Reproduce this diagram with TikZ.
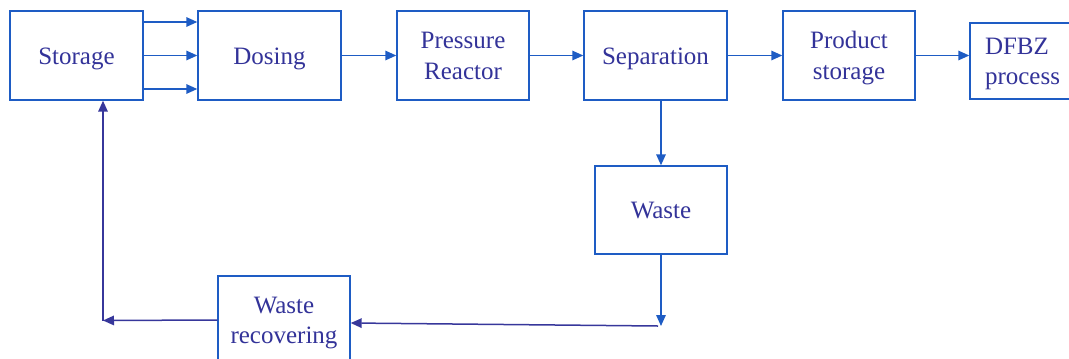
\documentclass[tikz,border=0pt]{standalone}
\usepackage{fontspec}
\setmainfont{Liberation Serif}
\usetikzlibrary{arrows.meta}
\definecolor{boxblue}{RGB}{30,92,196}
\definecolor{txtblue}{RGB}{51,51,153}
\definecolor{loopblue}{RGB}{55,55,155}
\tikzset{
  blk/.style={draw=boxblue, line width=1.4bp, fill=white, text=txtblue, align=center,
    font=\fontsize{25bp}{31bp}\selectfont, inner sep=0pt, minimum height=89bp,
    text height=23bp, text depth=5.5bp},
  two/.style={text height=54bp},
  arr/.style={draw=boxblue, line width=1.5bp, -{Triangle[length=11bp,width=9.5bp]}},
  arrl/.style={draw=loopblue, line width=1.5bp, -{Triangle[length=11bp,width=9.5bp]}}
}
\begin{document}
\begin{tikzpicture}[x=1bp,y=-1bp]
\useasboundingbox (0,0) rectangle (1069,358);
\node[blk, minimum width=133bp] (storage) at (76.5,55.5) {Storage};
\node[blk, minimum width=143bp] (dosing) at (269.5,55.5) {Dosing};
\node[blk, two, minimum width=132bp] (reactor) at (463,55.5) {Pressure\\Reactor};
\node[blk, minimum width=143bp] (separation) at (655.5,55.5) {Separation};
\node[blk, two, minimum width=132bp] (product) at (849,55.5) {Product\\storage};
\node[blk, minimum height=76bp, text height=22bp, text depth=36bp, text width=80bp, inner xsep=15bp, align=left, font=\fontsize{25bp}{30bp}\selectfont] (dfbz) at (1025,61) {DFBZ\\process};
\node[blk, minimum width=132bp, minimum height=88bp] (waste) at (661,210) {Waste};
\node[blk, two, minimum width=132bp, minimum height=88bp, font=\fontsize{25bp}{30bp}\selectfont, text height=53bp] (wrec) at (284,320) {Waste\\recovering};
\coordinate (c1) at (661,326);
\coordinate (c2) at (103,320.5);
\draw[arr] ([yshift=33.5bp]storage.east) -- ([yshift=33.5bp]dosing.west);
\draw[arr] (storage.east) -- (dosing.west);
\draw[arr] ([yshift=-33.5bp]storage.east) -- ([yshift=-33.5bp]dosing.west);
\draw[arr] (dosing.east) -- (reactor.west);
\draw[arr] (reactor.east) -- (separation.west);
\draw[arr] (separation.east) -- (product.west);
\draw[arr] (product.east) -- (product.east -| dfbz.west);
\draw[arr] (waste.north |- separation.south) -- (waste.north);
\draw[arr] (waste.south) -- (c1);
\draw[arrl] ([xshift=-3bp]c1) -- ([yshift=-3bp]wrec.east);
\draw[arrl] (wrec.west) -- (c2);
\draw[arrl] (c2) -- (c2 |- storage.south);
\end{tikzpicture}
\end{document}
